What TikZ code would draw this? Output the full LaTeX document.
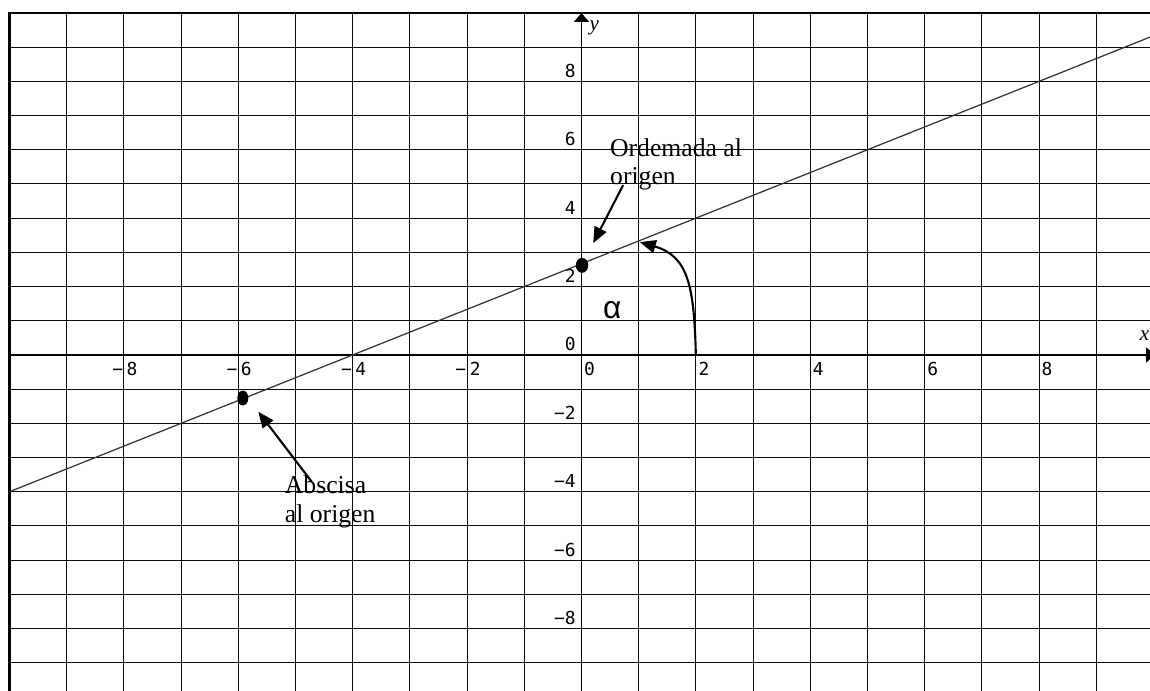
\documentclass[tikz,border=0pt]{standalone}
\usepackage{fontspec}
\setmainfont{Liberation Serif}
\newfontfamily\tickfont{DejaVu Sans Mono}
\newfontfamily\greekfont{Liberation Sans}
\usetikzlibrary{positioning,arrows.meta}
\definecolor{gridInk}{RGB}{10,10,10}
\definecolor{lineInk}{RGB}{50,50,50}

\begin{document}
\begin{tikzpicture}[x=0.572cm, y=0.342cm,
    gridline/.style={draw=gridInk, line width=0.3pt},
    frame/.style={draw=black, line width=0.8pt},
    axis/.style={-{Triangle[length=0.09cm,width=0.15cm]}, line width=0.4pt},
    arrow/.style={-{Triangle[length=0.16cm,width=0.13cm]}, line width=0.6pt},
    note/.style={font=\fontsize{7.3}{8.1}\selectfont, align=left, inner sep=0pt, anchor=base west},
    xtick/.style={font=\tickfont\fontsize{5.1}{6}\selectfont, inner sep=0pt, anchor=base west, xshift=0.02cm, yshift=-0.21cm},
    ytick/.style={font=\tickfont\fontsize{5.1}{6}\selectfont, inner sep=0pt, anchor=base east, xshift=-0.05cm, yshift=0.04cm},
    axislabel/.style={font=\itshape\fontsize{6}{7}\selectfont, inner sep=0pt, anchor=base west}
  ]
    \useasboundingbox (-10.166,-9.825) rectangle (9.94,10.38);

    \foreach \i in {-9,...,9} {
      \draw[gridline] (\i,-9.9) -- (\i,10);
      \draw[gridline] (-10,\i) -- (10,\i);
    }
    \draw[frame] (-10,-9.9) -- (-10,10) -- (10,10);

    \draw[axis] (0,-9.9) -- (0,10);
    \draw[axis] (-10,0) -- (10.03,0);
    \node[axislabel] (xlab) at (9.75,0.41) {x};
    \node[axislabel] (ylab) at (0.13,9.5) {y};

    \foreach \v in {-8,-6,...,8} {
      \pgfmathtruncatemacro{\absv}{abs(\v)}
      \node[xtick] (xt\absv\v) at (\v,0) {\ifnum\v<0 \llap{−\kern1pt}\fi\absv};
      \node[ytick] (yt\absv\v) at (0,\v) {\ifnum\v<0 −\fi\absv};
    }

    \draw[lineInk, line width=0.35pt] (-10,-4) -- (10,9.3333);

    \coordinate (ordinate) at (0.01,2.62);
    \coordinate (abscissa) at (-5.92,-1.26);
    \fill (ordinate) ellipse [x radius=0.062cm, y radius=0.075cm];
    \fill (abscissa) ellipse [x radius=0.055cm, y radius=0.075cm];

    \node[note] (ordemada) at (0.49,4.97) {Ordemada al\\origen};
    \node[note] (abscisa) at (-5.196,-4.89) {Abscisa\\al origen};
    \node[font=\greekfont\fontsize{9}{10}\selectfont, inner sep=0pt] (alpha) at (0.54,1.32) {α};

    \coordinate (ordtail) at (0.73,4.97);
    \coordinate (ordtip) at (0.206,3.27);
    \coordinate (abstail) at (-4.72,-3.70);
    \coordinate (abstip) at (-5.65,-1.66);
    \coordinate (anglestart) at (2,0);
    \coordinate (angletip) at (1.02,3.30);

    \draw[arrow] (ordtail) -- (ordtip);
    \draw[arrow] (abstail) -- (abstip);
    \draw[arrow] (anglestart) .. controls (1.97,2.05) and (1.86,2.89) .. (angletip);
  \end{tikzpicture}
\end{document}
